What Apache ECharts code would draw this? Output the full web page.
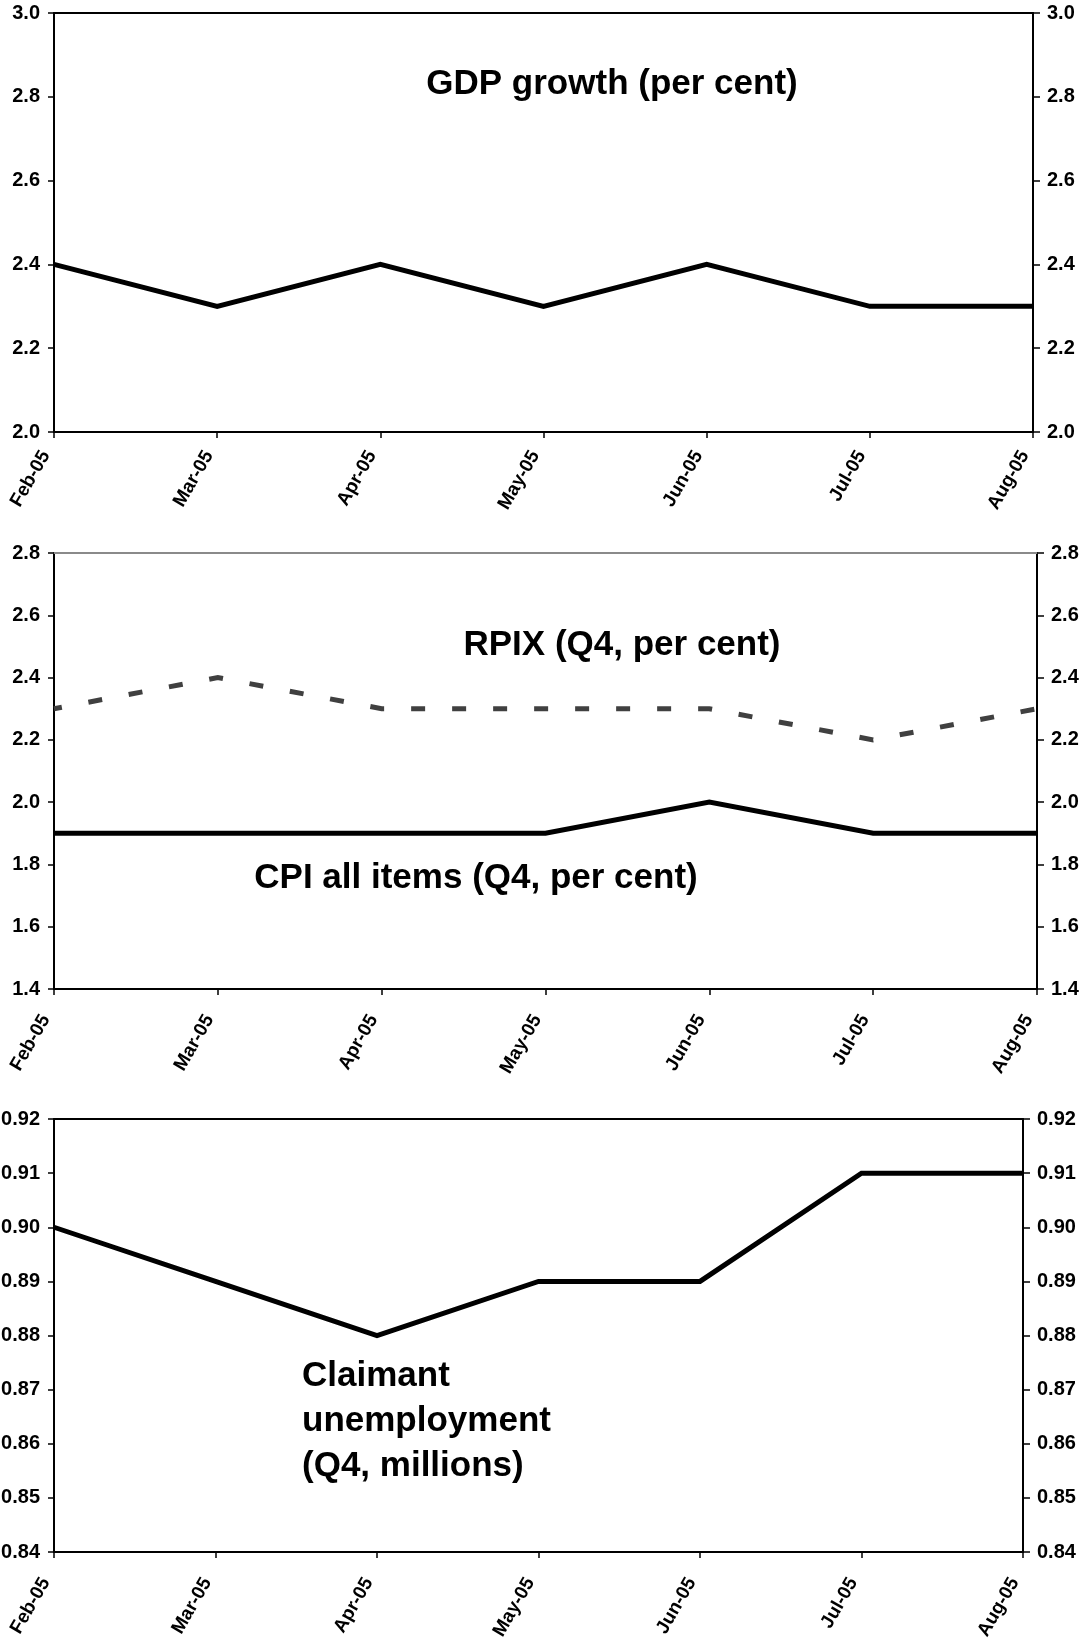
<!DOCTYPE html>
<html>
<head>
<meta charset="utf-8">
<script src="https://cdn.jsdelivr.net/npm/echarts@6/dist/echarts.min.js"></script>
<style>
  html, body { margin: 0; padding: 0; background: #ffffff; }
  #chart { width: 1084px; height: 1638px; }
</style>
</head>
<body>
<div id="chart"></div>
<script>
// Monthly survey of forecasts, Feb-05 to Aug-05
const months = ['Feb-05', 'Mar-05', 'Apr-05', 'May-05', 'Jun-05', 'Jul-05', 'Aug-05'];

const gdpGrowth = [2.4, 2.3, 2.4, 2.3, 2.4, 2.3, 2.3];
const rpix      = [2.3, 2.4, 2.3, 2.3, 2.3, 2.2, 2.3];
const cpi       = [1.9, 1.9, 1.9, 1.9, 2.0, 1.9, 1.9];
const claimant  = [0.90, 0.89, 0.88, 0.89, 0.89, 0.91, 0.91];

// value-axis ranges: [min, max, step, decimals]
const gdpAxis       = [2.0, 3.0, 0.2, 1];
const inflationAxis = [1.4, 2.8, 0.2, 1];
const claimantAxis  = [0.84, 0.92, 0.01, 2];

const FONT = '"Liberation Sans", Arial, Helvetica, sans-serif';

const panels = [
  { grid: { left: 54, right: 51, top: 13, height: 419 }, axis: gdpAxis, topColor: '#000000', labelGap: 25 },
  { grid: { left: 54, right: 47, top: 553, height: 436 }, axis: inflationAxis, topColor: '#8a8a8a', labelGap: 32 },
  { grid: { left: 54, right: 61, top: 1119, height: 433 }, axis: claimantAxis, topColor: '#000000', labelGap: 32 }
];

const grid = [], xAxis = [], yAxis = [];
panels.forEach((p, i) => {
  // fixed plot rectangles; labels may run past the canvas edge
  grid.push(Object.assign({ containLabel: false, outerBoundsMode: 'none' }, p.grid));
  // bottom category axis with rotated month labels
  xAxis.push({
    type: 'category', gridIndex: i, data: months, boundaryGap: false, position: 'bottom',
    axisLine: { show: true, onZero: false, lineStyle: { color: '#000', width: 2 } },
    axisTick: { show: true, inside: false, length: 6, interval: 0, lineStyle: { color: '#000', width: 1.5 } },
    axisLabel: { show: true, interval: 0, rotate: 60, margin: p.labelGap, color: '#000',
                 align: 'right', verticalAlign: 'bottom', hideOverlap: false,
                 fontFamily: FONT, fontWeight: 'bold', fontSize: 19 },
    splitLine: { show: false }
  });
  // top frame line
  xAxis.push({
    type: 'category', gridIndex: i, data: months, boundaryGap: false, position: 'top',
    axisLine: { show: true, onZero: false, lineStyle: { color: p.topColor, width: 2 } },
    axisTick: { show: false }, axisLabel: { show: false }, splitLine: { show: false }
  });
  const [mn, mx, step, dec] = p.axis;
  ['left', 'right'].forEach(side => {
    yAxis.push({
      type: 'value', gridIndex: i, position: side, min: mn, max: mx, interval: step,
      axisLine: { show: true, onZero: false, lineStyle: { color: '#000', width: 2 } },
      axisTick: { show: true, inside: false, length: side === 'left' ? 6 : 7, lineStyle: { color: '#000', width: 1.5 } },
      axisLabel: { show: true, margin: 14, color: '#000', fontFamily: FONT, fontWeight: 'bold', fontSize: 20,
                   formatter: v => v.toFixed(dec) },
      splitLine: { show: false }
    });
  });
});

function lineSeries(data, panel, style) {
  return {
    type: 'line', data: data, xAxisIndex: panel * 2, yAxisIndex: panel * 2,
    symbol: 'none', smooth: false, animation: false, z: 3,
    lineStyle: Object.assign({ color: '#000', width: 5, cap: 'butt', join: 'miter' }, style || {})
  };
}

const series = [
  lineSeries(gdpGrowth, 0),
  lineSeries(rpix, 1, { color: '#404040', type: [14, 27], dashOffset: 6 }),
  lineSeries(cpi, 1),
  lineSeries(claimant, 2)
];

function note(text, x, y, align) {
  return {
    type: 'text', x: x, y: y, z: 10,
    style: { text: text, fill: '#000', font: 'bold 35px ' + FONT,
             align: align || 'center', verticalAlign: 'middle', lineHeight: 45 }
  };
}

const chart = echarts.init(document.getElementById('chart'), null, { renderer: 'canvas' });
chart.setOption({
  animation: false,
  backgroundColor: '#ffffff',
  grid: grid,
  xAxis: xAxis,
  yAxis: yAxis,
  series: series,
  graphic: [
    note('GDP growth (per cent)', 612, 84),
    note('RPIX (Q4, per cent)', 622, 645),
    note('CPI all items (Q4, per cent)', 476, 878),
    note('Claimant\nunemployment\n(Q4, millions)', 302, 1421, 'left')
  ]
});
</script>
</body>
</html>
